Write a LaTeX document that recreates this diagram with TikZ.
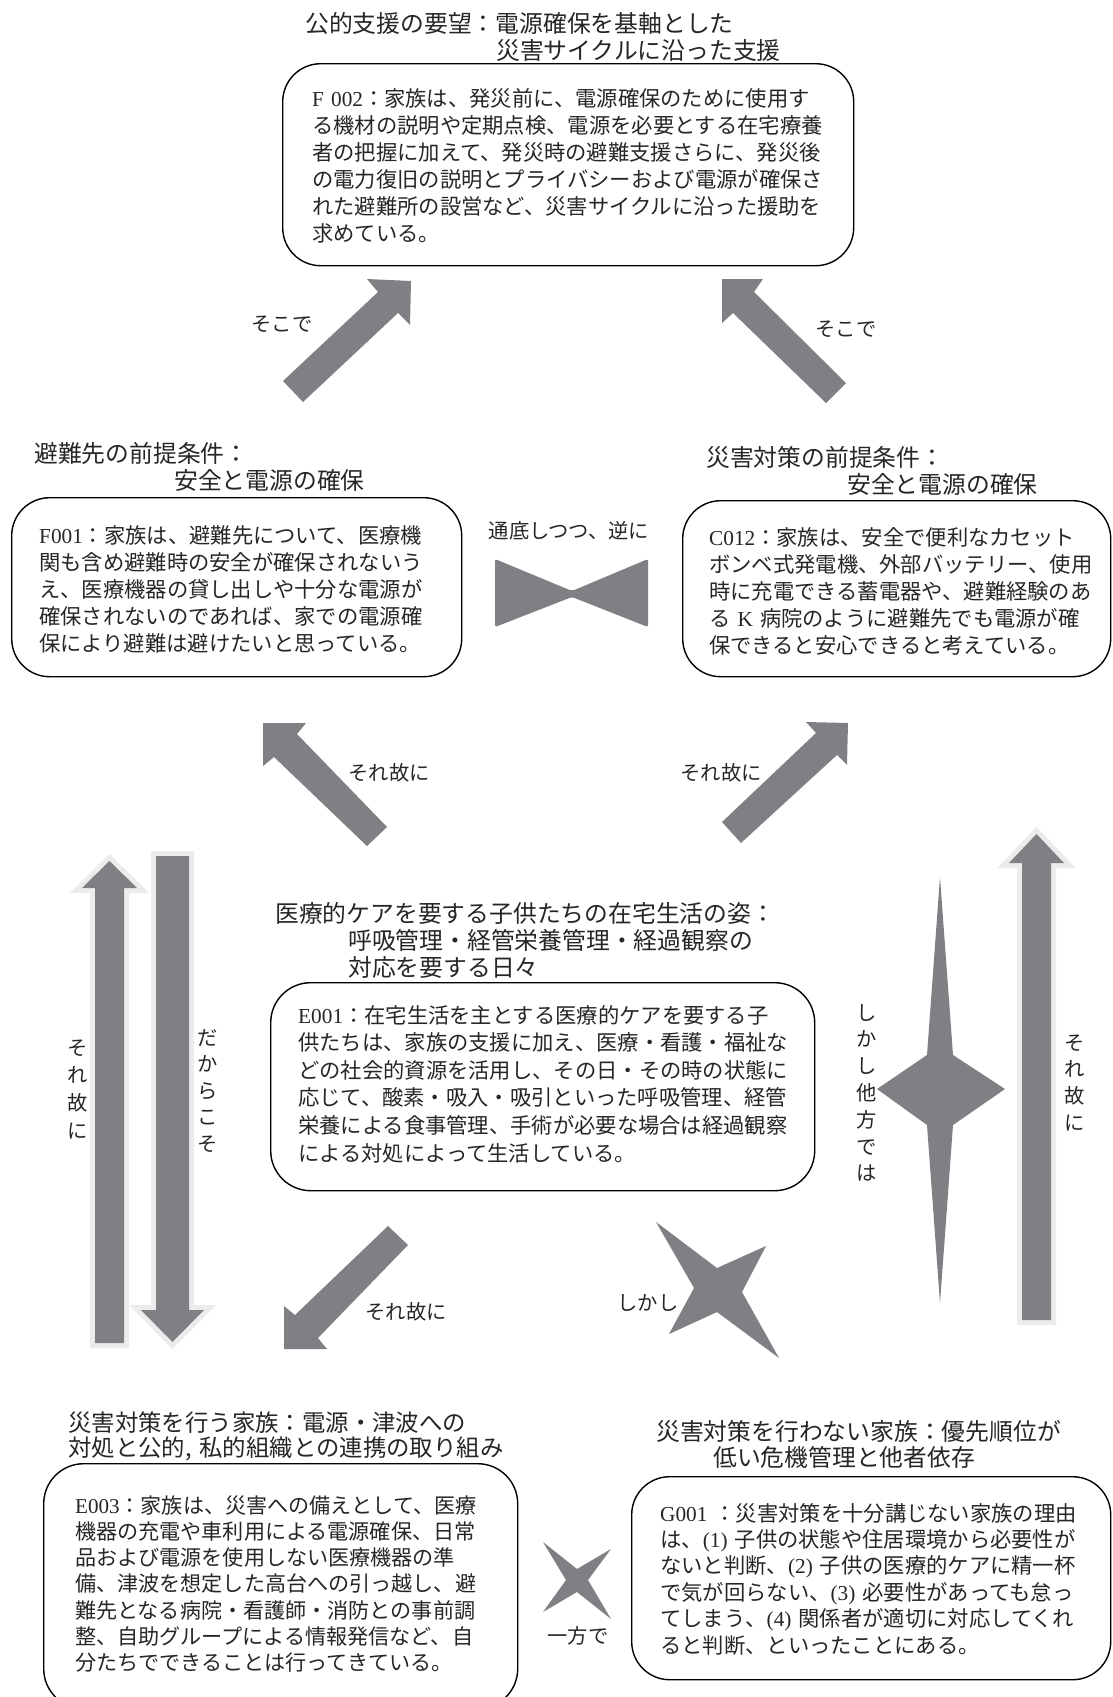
\documentclass[tikz,border=0pt]{standalone}
\usepackage{fontspec}
\setmainfont{Noto Sans CJK JP}
\newfontfamily\lt{Liberation Serif}
\definecolor{ag}{RGB}{127,128,132}
\definecolor{lite}{RGB}{236,236,236}
\begin{document}
\begin{tikzpicture}[x=1pt,y=-1pt,
  box/.style={draw=black, line width=1.4pt, rounded corners=38pt, inner sep=0pt, anchor=north west},
  body/.style={anchor=base west, inner sep=0pt, align=left, text width=#1, font=\fontsize{21.3}{27}\selectfont, text=black!85},
  body/.default=560pt,
  ttl/.style={anchor=base west, inner sep=0pt, align=left, text width=620pt, font=\fontsize{23.8}{27}\selectfont, text=black!85},
  lbl/.style={anchor=base, inner sep=0pt, font=\fontsize{20.3}{24}\selectfont, text=black!85},
  vlbl/.style={anchor=base, inner sep=0pt, align=center, text width=26pt, font=\fontsize{20.3}{#1}\selectfont, text=black!85},
  blk/.style={fill=ag},
  bblk/.style={fill=ag, preaction={draw=lite, line width=10pt, line join=miter}},
]
\useasboundingbox (0,0) rectangle (1112,1697);
\fill[white] (0,0) rectangle (1112,1697);

% ---------- top ----------
\node[ttl] (tTop) at (305,32) {公的支援の要望：電源確保を基軸とした\\\hspace*{191pt}災害サイクルに沿った支援};
\node[box, minimum width=571pt, minimum height=202pt] (bF002) at (282,63) {};
\node[body] (xF002) at (312,106) {{\lt F 002}：家族は、発災前に、電源確保のために使用す\\る機材の説明や定期点検、電源を必要とする在宅療養\\者の把握に加えて、発災時の避難支援さらに、発災後\\の電力復旧の説明とプライバシーおよび電源が確保さ\\れた避難所の設営など、災害サイクルに沿った援助を\\求めている。};

% arrows to top
\fill[blk] (283,381) -- (378,292) -- (367,279) -- (411,281) -- (410,325) -- (398,313) -- (303,402) -- cycle;
\fill[blk] (846,383) -- (754,292) -- (763,279) -- (722,279) -- (722,323) -- (733,313) -- (826,403) -- cycle;
\node[lbl] (lSokoL) at (282,331) {そこで};
\node[lbl] (lSokoR) at (846,336) {そこで};

% ---------- middle row ----------
\node[ttl] (tF001) at (34,462) {避難先の前提条件：\\\hspace*{140pt}安全と電源の確保};
\node[box, minimum width=450pt, minimum height=179pt] (bF001) at (11,497) {};
\node[body] (xF001) at (39,543) {{\lt F001}：家族は、避難先について、医療機\\関も含め避難時の安全が確保されないう\\え、医療機器の貸し出しや十分な電源が\\確保されないのであれば、家での電源確\\保により避難は避けたいと思っている。};

\node[ttl] (tC012) at (706,466) {災害対策の前提条件：\\\hspace*{141pt}安全と電源の確保};
\node[box, minimum width=428pt, minimum height=176pt] (bC012) at (682,500) {};
\node[body] (xC012) at (709,545) {{\lt C012}：家族は、安全で便利なカセット\\ボンベ式発電機、外部バッテリー、使用\\時に充電できる蓄電器や、避難経験のあ\\る {\lt K} 病院のように避難先でも電源が確\\保できると安心できると考えている。};

\node[lbl] (lTsutei) at (569,538) {通底しつつ、逆に};
\fill[blk, rounded corners=2pt] (495,559) -- (572,591) -- (648,559) -- (648,627) -- (572,597) -- (495,627) -- cycle;

% arrows up from centre
\fill[blk] (387,827) -- (297,734) -- (306,723) -- (263,723) -- (263,766) -- (274,757) -- (367,846) -- cycle;
\fill[blk] (722,822) -- (816,733) -- (806,722) -- (848,723) -- (847,765) -- (837,755) -- (741,843) -- cycle;
\node[lbl] (lSoreML) at (389,780) {それ故に};
\node[lbl] (lSoreMR) at (721,780) {それ故に};

% ---------- centre ----------
\node[ttl] (tE001) at (275,922) {医療的ケアを要する子供たちの在宅生活の姿：\\\hspace*{73pt}呼吸管理・経管栄養管理・経過観察の\\\hspace*{73pt}対応を要する日々};
\node[box, rounded corners=40pt, minimum width=544pt, minimum height=208pt] (bE001) at (270,982) {};
\node[body, font=\fontsize{21.3}{27.6}\selectfont] (xE001) at (298,1023) {{\lt E001}：在宅生活を主とする医療的ケアを要する子\\供たちは、家族の支援に加え、医療・看護・福祉な\\どの社会的資源を活用し、その日・その時の状態に\\応じて、酸素・吸入・吸引といった呼吸管理、経管\\栄養による食事管理、手術が必要な場合は経過観察\\による対処によって生活している。};

% vertical arrows (left)
\path[bblk] (95,1343) -- (95,888) -- (82,888) -- (109.5,861) -- (137,888) -- (124,888) -- (124,1343) -- cycle;
\path[bblk] (156,856) -- (189,856) -- (189,1310) -- (204,1310) -- (172.5,1342) -- (141,1310) -- (156,1310) -- cycle;
\node[vlbl=27.7] (vSoreL) at (78,1055) {そ\\れ\\故\\に};
\node[vlbl=26.5] (vDakara) at (208,1045) {だ\\か\\ら\\こ\\そ};

% right side
\fill[blk] (940,877) -- (953,1055) -- (1005,1089) -- (953,1125) -- (940,1303) -- (927,1125) -- (877,1089) -- (927,1055) -- cycle;
\node[vlbl=26.8] (vShikashi) at (867,1020) {し\\か\\し\\他\\方\\で\\は};
\path[bblk] (1022,1320) -- (1022,863) -- (1009,863) -- (1036.5,834) -- (1064,863) -- (1051,863) -- (1051,1320) -- cycle;
\node[vlbl=26.7] (vSoreR) at (1075,1050) {そ\\れ\\故\\に};

% lower connectors
\fill[blk] (388,1226) -- (295,1315) -- (284,1306) -- (284,1349) -- (327,1349) -- (318,1338) -- (408,1245) -- cycle;
\node[lbl] (lSoreBL) at (406,1319) {それ故に};
\fill[blk] (656,1222) -- (717,1268) -- (766,1246) -- (742,1292) -- (779,1358) -- (717,1312) -- (669,1334) -- (694,1288) -- cycle;
\node[lbl] (lShikashi) at (648,1310) {しかし};

% ---------- bottom row ----------
\node[ttl, font=\fontsize{23.4}{25.5}\selectfont] (tE003) at (68,1431) {災害対策を行う家族：電源・津波への\\対処と公的, 私的組織との連携の取り組み};
\node[box, rounded corners=40pt, minimum width=474pt, minimum height=245pt] (bE003) at (43,1463) {};
\node[body, font=\fontsize{21.1}{26.3}\selectfont] (xE003) at (75,1513) {{\lt E003}：家族は、災害への備えとして、医療\\機器の充電や車利用による電源確保、日常\\品および電源を使用しない医療機器の準\\備、津波を想定した高台への引っ越し、避\\難先となる病院・看護師・消防との事前調\\整、自助グループによる情報発信など、自\\分たちでできることは行ってきている。};

\fill[blk] (543,1542) -- (577,1569) -- (611,1549) -- (588,1580) -- (611,1619) -- (577,1592) -- (543,1612) -- (566,1580) -- cycle;
\node[lbl] (lIppo) at (578,1643) {一方で};

\node[ttl, font=\fontsize{23.8}{26}\selectfont] (tG001) at (656,1440) {災害対策を行わない家族：優先順位が\\\hspace*{57pt}低い危機管理と他者依存};
\node[box, minimum width=479pt, minimum height=203pt] (bG001) at (631,1476) {};
\node[body, font=\fontsize{21.3}{26.4}\selectfont] (xG001) at (660,1521) {{\lt G001} ：災害対策を十分講じない家族の理由\\は、{\lt (1)} 子供の状態や住居環境から必要性が\\ないと判断、{\lt (2)} 子供の医療的ケアに精一杯\\で気が回らない、{\lt (3)} 必要性があっても怠っ\\てしまう、{\lt (4)} 関係者が適切に対応してくれ\\ると判断、といったことにある。};
\end{tikzpicture}
\end{document}
